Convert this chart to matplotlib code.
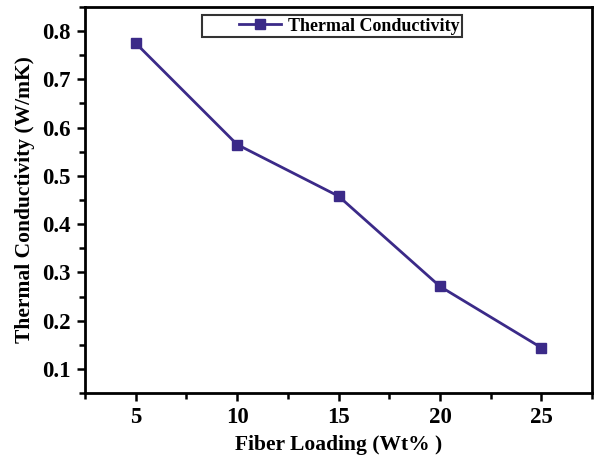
import matplotlib
matplotlib.use("Agg")
import matplotlib.pyplot as plt
from matplotlib.ticker import MultipleLocator
from matplotlib.legend_handler import HandlerLine2D

fiber_loading = [5, 10, 15, 20, 25]
conductivity = [0.775, 0.565, 0.458, 0.271, 0.144]
series_label = "Thermal Conductivity"
x_label = "Fiber Loading (Wt% )"
y_label = "Thermal Conductivity (W/mK)"

plt.rcParams['font.family'] = ['Liberation Serif', 'DejaVu Serif']
plt.rcParams['font.weight'] = 'bold'

color = "#3b2a88"

fig = plt.figure(figsize=(5.94, 4.62), dpi=100)
ax = fig.add_axes([0.143, 0.149, 0.854, 0.836])

line, = ax.plot(fiber_loading, conductivity, color=color, lw=2, marker='s',
                markersize=7, label=series_label)

ax.set_xlim(2.5, 27.5)
ax.set_ylim(0.05, 0.85)
ax.xaxis.set_major_locator(MultipleLocator(5))
ax.xaxis.set_minor_locator(MultipleLocator(2.5))
ax.yaxis.set_major_locator(MultipleLocator(0.1))
ax.yaxis.set_minor_locator(MultipleLocator(0.05))

for s in ax.spines.values():
    s.set_linewidth(2)
ax.tick_params(which='major', direction='out', length=6, width=1.8,
               labelsize=16.5, pad=4)
ax.tick_params(which='minor', direction='out', length=4, width=1.8)
for lab in ax.get_xticklabels() + ax.get_yticklabels():
    lab.set_fontweight('bold')

ax.set_xlabel(x_label, fontsize=15.5, fontweight='bold', labelpad=5)
ax.set_ylabel(y_label, fontsize=15.5, fontweight='bold', labelpad=5)

# blank space on the left of the legend handle, like the original
leg = ax.legend(loc='upper left', bbox_to_anchor=(0.231, 0.979),
                fontsize=13, frameon=True, fancybox=False,
                handlelength=4.2, borderpad=0.15, handletextpad=0.4,
                borderaxespad=0,
                handler_map={line: HandlerLine2D(xpad=1.9)})
leg.get_frame().set_edgecolor('black')
leg.get_frame().set_linewidth(1.5)
for t in leg.get_texts():
    t.set_fontweight('bold')

fig.savefig("out.png", dpi=100)
